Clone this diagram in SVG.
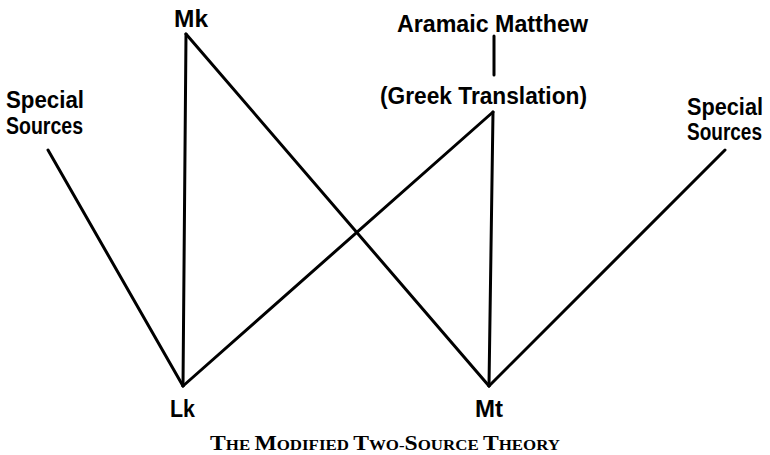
<svg xmlns="http://www.w3.org/2000/svg" width="770" height="455" viewBox="0 0 770 455">
<style>
.lbl{font-family:"Liberation Sans",Arial,sans-serif;font-weight:bold;font-size:23px;fill:#000}
.ln{stroke:#000;stroke-width:3;stroke-linecap:round;fill:none}
.cap{font-family:"Liberation Serif","Times New Roman",serif;font-weight:bold;fill:#000}
</style>
<rect width="770" height="455" fill="#fff"/>
<g id="connectors">
<line class="ln" x1="186" y1="34" x2="183" y2="386"/>
<line class="ln" x1="186" y1="34" x2="489" y2="386"/>
<line class="ln" x1="493" y1="112" x2="183" y2="386"/>
<line class="ln" x1="493" y1="112" x2="489" y2="386"/>
<line class="ln" x1="48" y1="150" x2="183" y2="386"/>
<line class="ln" x1="725" y1="150" x2="489" y2="386"/>
<line class="ln" x1="494" y1="36" x2="494" y2="75"/>
</g>
<g id="mk"><text class="lbl" x="174" y="27" font-size="24" textLength="34" lengthAdjust="spacingAndGlyphs">Mk</text></g>
<g id="aramaic"><text class="lbl" x="397" y="32" textLength="191" lengthAdjust="spacingAndGlyphs">Aramaic Matthew</text></g>
<g id="greek"><text class="lbl" x="380" y="104" textLength="207" lengthAdjust="spacingAndGlyphs">(Greek Translation)</text></g>
<g id="special-left"><text class="lbl" x="6" y="108" font-size="24" textLength="78" lengthAdjust="spacingAndGlyphs">Special</text><text class="lbl" x="6" y="134" font-size="24" textLength="77" lengthAdjust="spacingAndGlyphs">Sources</text></g>
<g id="special-right"><text class="lbl" x="687" y="115" font-size="21" textLength="76" lengthAdjust="spacingAndGlyphs">Special</text><text class="lbl" x="687" y="140" font-size="19" textLength="75" lengthAdjust="spacingAndGlyphs">Sources</text></g>
<g id="lk"><text class="lbl" x="170" y="417" font-size="24" textLength="25" lengthAdjust="spacingAndGlyphs">Lk</text></g>
<g id="mt"><text class="lbl" x="475" y="417" font-size="24" textLength="28" lengthAdjust="spacingAndGlyphs">Mt</text></g>
<g id="caption"><text class="cap" x="210" y="450" textLength="350" lengthAdjust="spacingAndGlyphs"><tspan font-size="21">T</tspan><tspan font-size="15">HE </tspan><tspan font-size="21">M</tspan><tspan font-size="15">ODIFIED </tspan><tspan font-size="21">T</tspan><tspan font-size="15">WO-</tspan><tspan font-size="21">S</tspan><tspan font-size="15">OURCE </tspan><tspan font-size="21">T</tspan><tspan font-size="15">HEORY</tspan></text></g>
</svg>
